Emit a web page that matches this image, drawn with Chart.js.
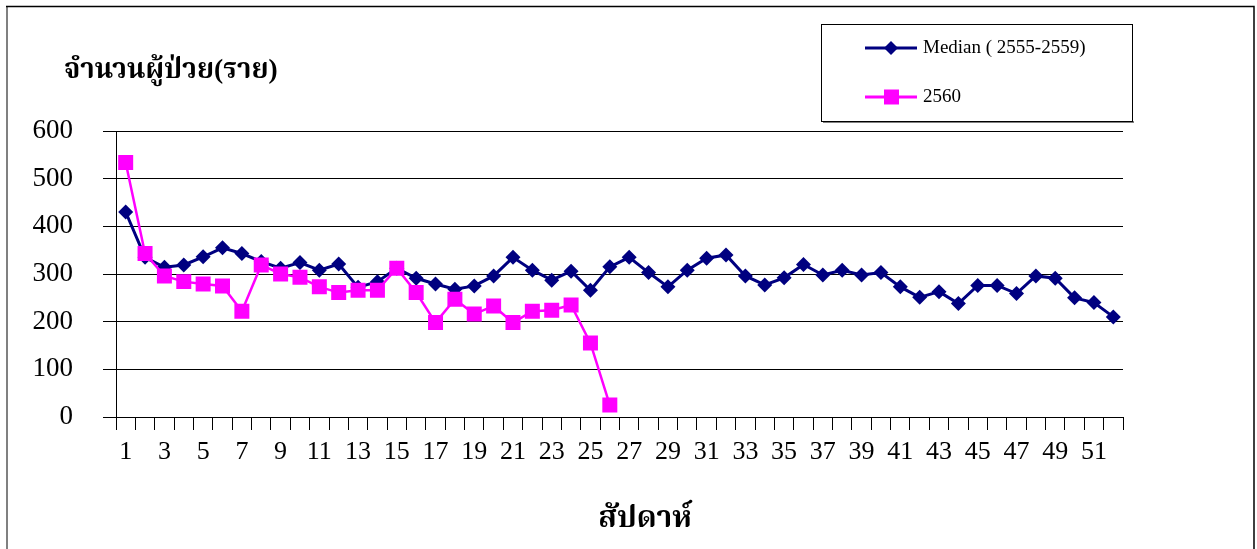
<!DOCTYPE html>
<html><head><meta charset="utf-8">
<script src="https://cdn.jsdelivr.net/npm/chart.js@4/dist/chart.umd.min.js"></script>
<style>html,body{margin:0;padding:0;background:#fff;overflow:hidden}#wrap{position:relative;width:1257px;height:549px}</style>
</head><body><div id="wrap"><canvas id="c" width="1257" height="549"></canvas></div>
<script>
const weeks = ['1','2','3','4','5','6','7','8','9','10','11','12','13','14','15','16','17','18','19','20','21','22','23','24','25','26','27','28','29','30','31','32','33','34','35','36','37','38','39','40','41','42','43','44','45','46','47','48','49','50','51','52'];
const medianValues = [430,335,314,319,336,355,343,326,312,324,308,321,272,284,312,291,279,268,275,296,335,308,287,306,266,315,335,303,273,308,333,340,296,277,292,320,298,308,298,303,273,251,263,238,276,276,259,296,291,250,240,210];
const y2560Values = [534,343,296,284,279,275,222,319,300,293,273,261,266,266,312,261,198,247,216,233,198,222,224,235,155,25];
const seriesNames = ['Median ( 2555-2559)', '2560'];
const yTitle = 'จำนวนผู้ป่วย(ราย)';
const xTitle = 'สัปดาห์';

const SERIF = '"Liberation Serif", "Times New Roman", "Noto Serif Thai", "Noto Sans Thai", "Norasi", "Loma", "Garuda", "DejaVu Serif", serif';

const decor = {
  id: 'decor',
  beforeDraw(chart) {
    const ctx = chart.ctx;
    ctx.save();
    ctx.fillStyle = '#fff';
    ctx.fillRect(0, 0, chart.width, chart.height);
    ctx.restore();
  },
  afterDraw(chart) {
    const ctx = chart.ctx;
    ctx.save();
    // frame
    ctx.strokeStyle = '#808080'; ctx.lineWidth = 2;
    ctx.beginPath(); ctx.moveTo(7, 560); ctx.lineTo(7, 6); ctx.stroke();
    ctx.strokeStyle = '#000'; ctx.lineWidth = 1.5;
    ctx.beginPath(); ctx.moveTo(6, 6.5); ctx.lineTo(1254, 6.5); ctx.lineTo(1254, 560); ctx.stroke();
    // titles
    ctx.fillStyle = '#000';
    ctx.textBaseline = 'middle';
    ctx.textAlign = 'left';
    ctx.font = 'bold 27.5px ' + SERIF;
    ctx.fillText(yTitle, 64, 71);
    ctx.font = 'bold 30px ' + SERIF;
    ctx.textAlign = 'center';
    ctx.fillText(xTitle, 645, 519);
    // legend box
    const bx = 821, by = 24, bw = 311, bh = 97;
    ctx.fillStyle = '#808080';
    ctx.fillRect(bx + 2, by + bh, bw, 2);
    ctx.fillStyle = '#fff';
    ctx.fillRect(bx, by, bw, bh);
    ctx.strokeStyle = '#000'; ctx.lineWidth = 1;
    ctx.strokeRect(bx + 0.5, by + 0.5, bw, bh);
    const ds = chart.data.datasets;
    const rows = [48, 97];
    ds.forEach((d, i) => {
      const y = rows[i];
      ctx.strokeStyle = d.borderColor; ctx.lineWidth = 3;
      ctx.beginPath(); ctx.moveTo(865, y); ctx.lineTo(917, y); ctx.stroke();
      ctx.fillStyle = d.pointBackgroundColor;
      ctx.beginPath();
      if (d.pointStyle === 'rectRot') {
        ctx.moveTo(891, y - 7); ctx.lineTo(898, y); ctx.lineTo(891, y + 7); ctx.lineTo(884, y); ctx.closePath();
      } else {
        ctx.rect(884, y - 7.5, 15, 15);
      }
      ctx.fill();
      ctx.fillStyle = '#000';
      ctx.textAlign = 'left'; ctx.textBaseline = 'middle';
      ctx.font = '19px ' + SERIF;
      ctx.fillText(seriesNames[i], 923, y);
    });
    ctx.restore();
  }
};

new Chart(document.getElementById('c'), {
  type: 'line',
  data: {
    labels: weeks,
    datasets: [
      {
        label: seriesNames[0], data: medianValues,
        borderColor: '#000080', backgroundColor: '#000080',
        pointBackgroundColor: '#000080', pointBorderColor: '#000080',
        borderWidth: 3, pointStyle: 'rectRot', pointRadius: 7.5, pointBorderWidth: 0,
        tension: 0, order: 1
      },
      {
        label: seriesNames[1], data: y2560Values,
        borderColor: '#FF00FF', backgroundColor: '#FF00FF',
        pointBackgroundColor: '#FF00FF', pointBorderColor: '#FF00FF',
        borderWidth: 2.5, pointStyle: 'rect', pointRadius: 10.6, pointBorderWidth: 0,
        tension: 0, order: 0
      }
    ]
  },
  options: {
    responsive: false,
    animation: false,
    events: [],
    layout: { padding: { left: 0, top: 131, right: 134, bottom: 0 } },
    plugins: { legend: { display: false }, tooltip: { enabled: false }, title: { display: false } },
    scales: {
      x: {
        type: 'category',
        offset: true,
        grid: { offset: true, drawOnChartArea: false, drawTicks: true, tickLength: 13, color: '#000', tickColor: '#000', lineWidth: 1 },
        border: { display: true, color: '#000', width: 1 },
        ticks: {
          autoSkip: false, maxRotation: 0, minRotation: 0, padding: 7, color: '#000',
          font: { family: SERIF, size: 26 },
          callback: function (v, i) { return i % 2 === 0 ? this.getLabelForValue(v) : ''; }
        },
        afterFit(s) { s.height = 132; }
      },
      y: {
        min: 0, max: 600,
        grid: { color: '#000', tickColor: '#000', tickLength: 13, lineWidth: 1 },
        border: { display: true, color: '#000', width: 1 },
        ticks: { stepSize: 100, color: '#000', padding: 30, font: { family: SERIF, size: 27 } },
        afterFit(s) { s.width = 116; }
      }
    }
  },
  plugins: [decor]
});
</script>
</body></html>
